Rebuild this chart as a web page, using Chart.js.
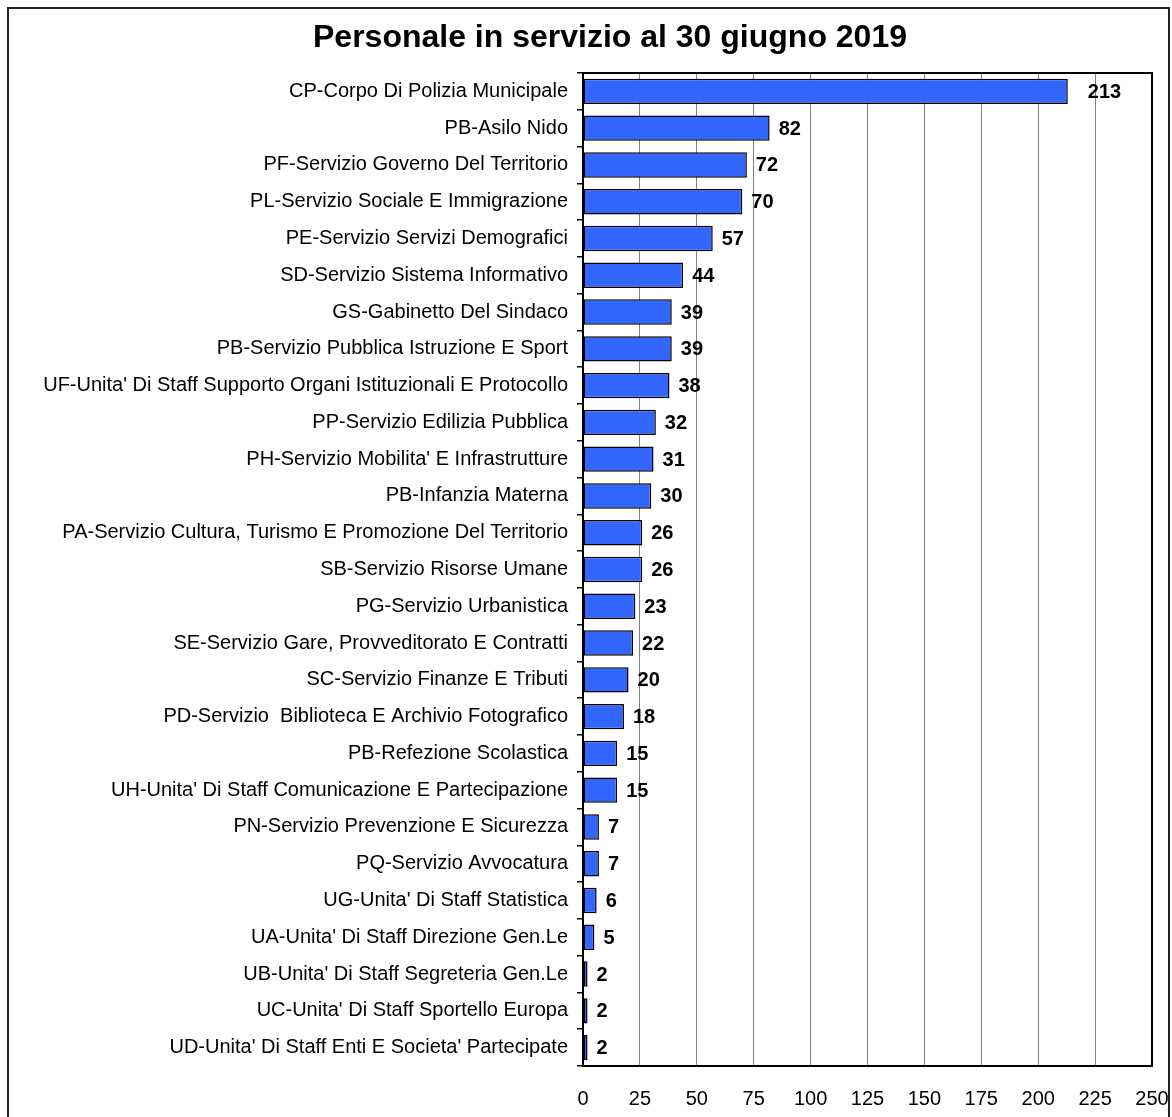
<!DOCTYPE html>
<html>
<head>
<meta charset="utf-8">
<script src="https://cdn.jsdelivr.net/npm/chart.js@4.4.0/dist/chart.umd.min.js"></script>
<style>
  html, body { margin: 0; padding: 0; background: #fff; }
  canvas { display: block; }
</style>
</head>
<body>
<canvas id="chart" width="1172" height="1117"></canvas>
<script>
const categories = [
  "CP-Corpo Di Polizia Municipale",
  "PB-Asilo Nido",
  "PF-Servizio Governo Del Territorio",
  "PL-Servizio Sociale E Immigrazione",
  "PE-Servizio Servizi Demografici",
  "SD-Servizio Sistema Informativo",
  "GS-Gabinetto Del Sindaco",
  "PB-Servizio Pubblica Istruzione E Sport",
  "UF-Unita' Di Staff Supporto Organi Istituzionali E Protocollo",
  "PP-Servizio Edilizia Pubblica",
  "PH-Servizio Mobilita' E Infrastrutture",
  "PB-Infanzia Materna",
  "PA-Servizio Cultura, Turismo E Promozione Del Territorio",
  "SB-Servizio Risorse Umane",
  "PG-Servizio Urbanistica",
  "SE-Servizio Gare, Provveditorato E Contratti",
  "SC-Servizio Finanze E Tributi",
  "PD-Servizio  Biblioteca E Archivio Fotografico",
  "PB-Refezione Scolastica",
  "UH-Unita' Di Staff Comunicazione E Partecipazione",
  "PN-Servizio Prevenzione E Sicurezza",
  "PQ-Servizio Avvocatura",
  "UG-Unita' Di Staff Statistica",
  "UA-Unita' Di Staff Direzione Gen.Le",
  "UB-Unita' Di Staff Segreteria Gen.Le",
  "UC-Unita' Di Staff Sportello Europa",
  "UD-Unita' Di Staff Enti E Societa' Partecipate"
];
const personale = [213, 82, 72, 70, 57, 44, 39, 39, 38, 32, 31, 30, 26, 26, 23, 22, 20, 18, 15, 15, 7, 7, 6, 5, 2, 2, 2];
const xMin = 0, xMax = 250, xStep = 25;

const FONT = "'Liberation Sans', Arial, sans-serif";
const titleText = "Personale in servizio al 30 giugno 2019";

// cornice esterna, titolo, bordo area grafico ed etichette valori
const decor = {
  id: "decor",
  beforeDraw(chart) {
    const ctx = chart.ctx;
    ctx.save();
    ctx.fillStyle = "#fff";
    ctx.fillRect(0, 0, chart.width, chart.height);
    ctx.strokeStyle = "#222";
    ctx.lineWidth = 2;
    ctx.strokeRect(8, 8, 1161, 1200);
    ctx.fillStyle = "#000";
    ctx.font = "bold 32px " + FONT;
    ctx.textAlign = "center";
    ctx.textBaseline = "alphabetic";
    ctx.fillText(titleText, 610, 47);
    ctx.restore();
  },
  afterDatasetsDraw(chart) {
    const ctx = chart.ctx;
    const a = chart.chartArea;
    ctx.save();
    ctx.strokeStyle = "#000";
    ctx.lineWidth = 2;
    ctx.strokeRect(a.left, a.top, a.right - a.left, a.bottom - a.top);
    const meta = chart.getDatasetMeta(0);
    ctx.fillStyle = "#000";
    ctx.font = "bold 20px " + FONT;
    ctx.textAlign = "left";
    ctx.textBaseline = "middle";
    meta.data.forEach((bar, i) => {
      const gap = i === 0 ? 20 : 9;
      ctx.fillText(String(personale[i]), bar.x + gap, bar.y + 1);
    });
    ctx.restore();
  }
};

new Chart(document.getElementById("chart"), {
  type: "bar",
  data: {
    labels: categories,
    datasets: [{
      data: personale,
      backgroundColor: "#3366FF",
      borderColor: "#000",
      borderWidth: 1.5,
      borderSkipped: false,
      barPercentage: 0.69,
      categoryPercentage: 1
    }]
  },
  options: {
    indexAxis: "y",
    responsive: false,
    animation: false,
    layout: { padding: { top: 73, right: 20, bottom: 0, left: 0 } },
    plugins: {
      legend: { display: false },
      title: { display: false },
      tooltip: { enabled: false }
    },
    scales: {
      x: {
        min: xMin,
        max: xMax,
        afterFit(scale) {
          scale.height = 51;
          scale.paddingLeft = 0;
          scale.paddingRight = 0;
        },
        ticks: {
          stepSize: xStep,
          padding: 21,
          color: "#000",
          font: { family: FONT, size: 20 }
        },
        grid: { color: "#808080", lineWidth: 1, drawTicks: false },
        border: { display: true, color: "#000", width: 2 }
      },
      y: {
        afterFit(scale) { scale.width = 583; },
        ticks: {
          padding: 9,
          color: "#000",
          autoSkip: false,
          font: { family: FONT, size: 20 }
        },
        grid: { drawOnChartArea: false, drawTicks: true, tickLength: 6, color: "#000", lineWidth: 1.5 },
        border: { display: true, color: "#000", width: 2 }
      }
    }
  },
  plugins: [decor]
});
</script>
</body>
</html>
